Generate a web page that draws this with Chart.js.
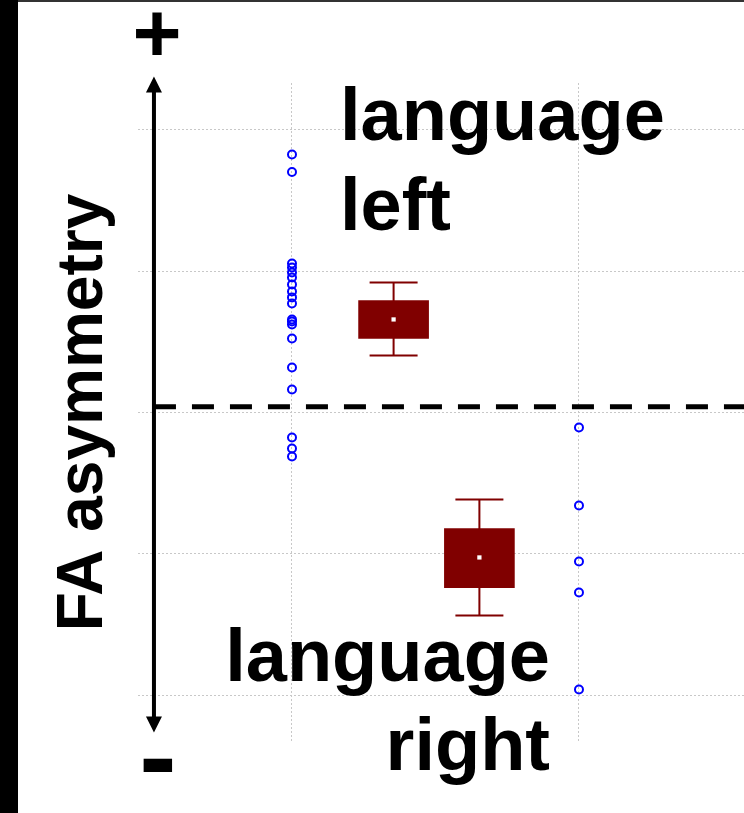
<!DOCTYPE html>
<html>
<head>
<meta charset="utf-8">
<script src="https://cdn.jsdelivr.net/npm/chart.js@4.4.0/dist/chart.umd.min.js"></script>
<style>
  html, body { margin: 0; padding: 0; background: #fff; }
  #wrap { position: relative; width: 744px; height: 813px; overflow: hidden; }
  #frameLeft { position: absolute; left: 0; top: 0; width: 18px; height: 813px; background: #000; }
  #frameTop { position: absolute; left: 0; top: 0; width: 744px; height: 2px; background: #333; }
</style>
</head>
<body>
<div id="wrap">
  <canvas id="myChart" width="744" height="813"></canvas>
  <div id="frameTop"></div>
  <div id="frameLeft"></div>
</div>
<script>
// group positions on the x axis and tick positions
const groupX = [1, 2];
const xTicks = [1, 2];
const yTicks = [-0.2, -0.1, 0, 0.1, 0.2];

// individual subjects (FA asymmetry)
const leftLangValues = [0.1825, 0.1701, 0.1054, 0.1025, 0.0990, 0.0955, 0.0905, 0.0856, 0.0814,
   0.0771, 0.0658, 0.0644, 0.0622, 0.0523, 0.0318, 0.0163, -0.0177, -0.0255, -0.0311];
const rightLangValues = [-0.0106, -0.0658, -0.1054, -0.1273, -0.1959];

// box plot summaries
const boxX = [1.354, 1.653];
const boxQ1 = [0.0523, -0.1238];
const boxQ3 = [0.0792, -0.0820];
const whiskerLow = [0.0403, -0.1436];
const whiskerHigh = [0.0919, -0.0615];
const boxMedian = [0.0658, -0.1025];

// reference line and arrow
const refLineValue = 0.004;
const arrowX = 0.519;
const arrowTop = 0.2376;
const arrowBottom = -0.2263;

const fontFamily = "'Liberation Sans', Arial, sans-serif";
const boxColor = '#800000';

const decorations = {
   id: 'decorations',
   beforeDatasetsDraw(chart) {
      const { ctx, chartArea, scales: { x, y } } = chart;
      ctx.save();
      // whiskers
      ctx.strokeStyle = boxColor;
      ctx.lineWidth = 2;
      const half = 24;
      boxX.forEach((bx, i) => {
         const px = x.getPixelForValue(bx);
         const yl = y.getPixelForValue(whiskerLow[i]);
         const yh = y.getPixelForValue(whiskerHigh[i]);
         ctx.beginPath();
         ctx.moveTo(px, yh); ctx.lineTo(px, yl);
         ctx.moveTo(px - half, yh); ctx.lineTo(px + half, yh);
         ctx.moveTo(px - half, yl); ctx.lineTo(px + half, yl);
         ctx.stroke();
      });
      // dashed reference line
      const ry = y.getPixelForValue(refLineValue);
      ctx.strokeStyle = '#000';
      ctx.lineWidth = 5;
      ctx.setLineDash([22, 16]);
      ctx.beginPath();
      ctx.moveTo(x.getPixelForValue(arrowX), ry);
      ctx.lineTo(chartArea.right, ry);
      ctx.stroke();
      ctx.restore();
   },
   afterDraw(chart) {
      const { ctx, scales: { x, y } } = chart;
      ctx.save();
      // double arrow
      const ax = x.getPixelForValue(arrowX);
      const t = y.getPixelForValue(arrowTop);
      const b = y.getPixelForValue(arrowBottom);
      ctx.strokeStyle = '#000';
      ctx.fillStyle = '#000';
      ctx.lineWidth = 4;
      ctx.beginPath();
      ctx.moveTo(ax, t + 10);
      ctx.lineTo(ax, b - 10);
      ctx.stroke();
      ctx.beginPath();
      ctx.moveTo(ax, t); ctx.lineTo(ax - 8, t + 16); ctx.lineTo(ax + 8, t + 16); ctx.closePath();
      ctx.moveTo(ax, b); ctx.lineTo(ax - 8, b - 16); ctx.lineTo(ax + 8, b - 16); ctx.closePath();
      ctx.fill();

      // labels
      ctx.textBaseline = 'alphabetic';
      ctx.font = 'bold 84px ' + fontFamily;
      ctx.textAlign = 'center';
      ctx.fillText('+', 157, 62);
      ctx.font = 'bold 112px ' + fontFamily;
      ctx.fillText('-', 158, 794);

      ctx.font = 'bold 74px ' + fontFamily;
      ctx.textAlign = 'left';
      ctx.fillText('language', 340, 140);
      ctx.fillText('left', 340, 230);
      ctx.textAlign = 'right';
      ctx.fillText('language', 550, 681);
      ctx.fillText('right', 550, 770);
      ctx.restore();
   },
};

const ctx = document.getElementById('myChart').getContext('2d');

new Chart(ctx, {
   type: 'scatter',
   data: {
      datasets: [
         {
            type: 'bar',
            data: boxX.map((bx, i) => ({ x: bx, y: [boxQ1[i], boxQ3[i]] })),
            backgroundColor: boxColor,
            borderWidth: 0,
            barThickness: 70,
            grouped: false,
            order: 2,
         },
         {
            data: boxX.map((bx, i) => ({ x: bx, y: boxMedian[i] })),
            pointStyle: 'rect',
            pointRadius: 3,
            backgroundColor: '#fff',
            borderWidth: 0,
            order: 1,
         },
         {
            data: leftLangValues.map((v) => ({ x: groupX[0], y: v })),
            pointRadius: 4,
            borderWidth: 2,
            borderColor: '#0000ff',
            backgroundColor: 'rgba(0,0,0,0)',
            order: 0,
         },
         {
            data: rightLangValues.map((v) => ({ x: groupX[1], y: v })),
            pointRadius: 4,
            borderWidth: 2,
            borderColor: '#0000ff',
            backgroundColor: 'rgba(0,0,0,0)',
            order: 0,
         },
      ],
   },
   options: {
      responsive: false,
      animation: false,
      layout: {
         autoPadding: false,
         padding: { left: 20, top: 83, bottom: 71, right: 0 },
      },
      plugins: {
         legend: { display: false },
         tooltip: { enabled: false },
      },
      scales: {
         x: {
            type: 'linear',
            offset: false,
            min: 0.4634,
            max: 2.575,
            afterBuildTicks: (axis) => { axis.ticks = xTicks.map((v) => ({ value: v })); },
            ticks: { display: false },
            grid: { color: '#c8c8c8', lineWidth: 1, drawTicks: false, offset: false },
            border: { display: false, dash: [2, 2] },
         },
         y: {
            min: -0.233,
            max: 0.233,
            afterBuildTicks: (axis) => { axis.ticks = yTicks.map((v) => ({ value: v })); },
            ticks: { display: false },
            grid: { color: '#c8c8c8', lineWidth: 1, drawTicks: false },
            border: { display: false, dash: [2, 2] },
            title: {
               display: true,
               text: 'FA asymmetry',
               color: '#000',
               font: { family: fontFamily, size: 64, weight: 'bold' },
               padding: { top: 25.6, bottom: 15.6 },
            },
         },
      },
   },
   plugins: [decorations],
});
</script>
</body>
</html>
